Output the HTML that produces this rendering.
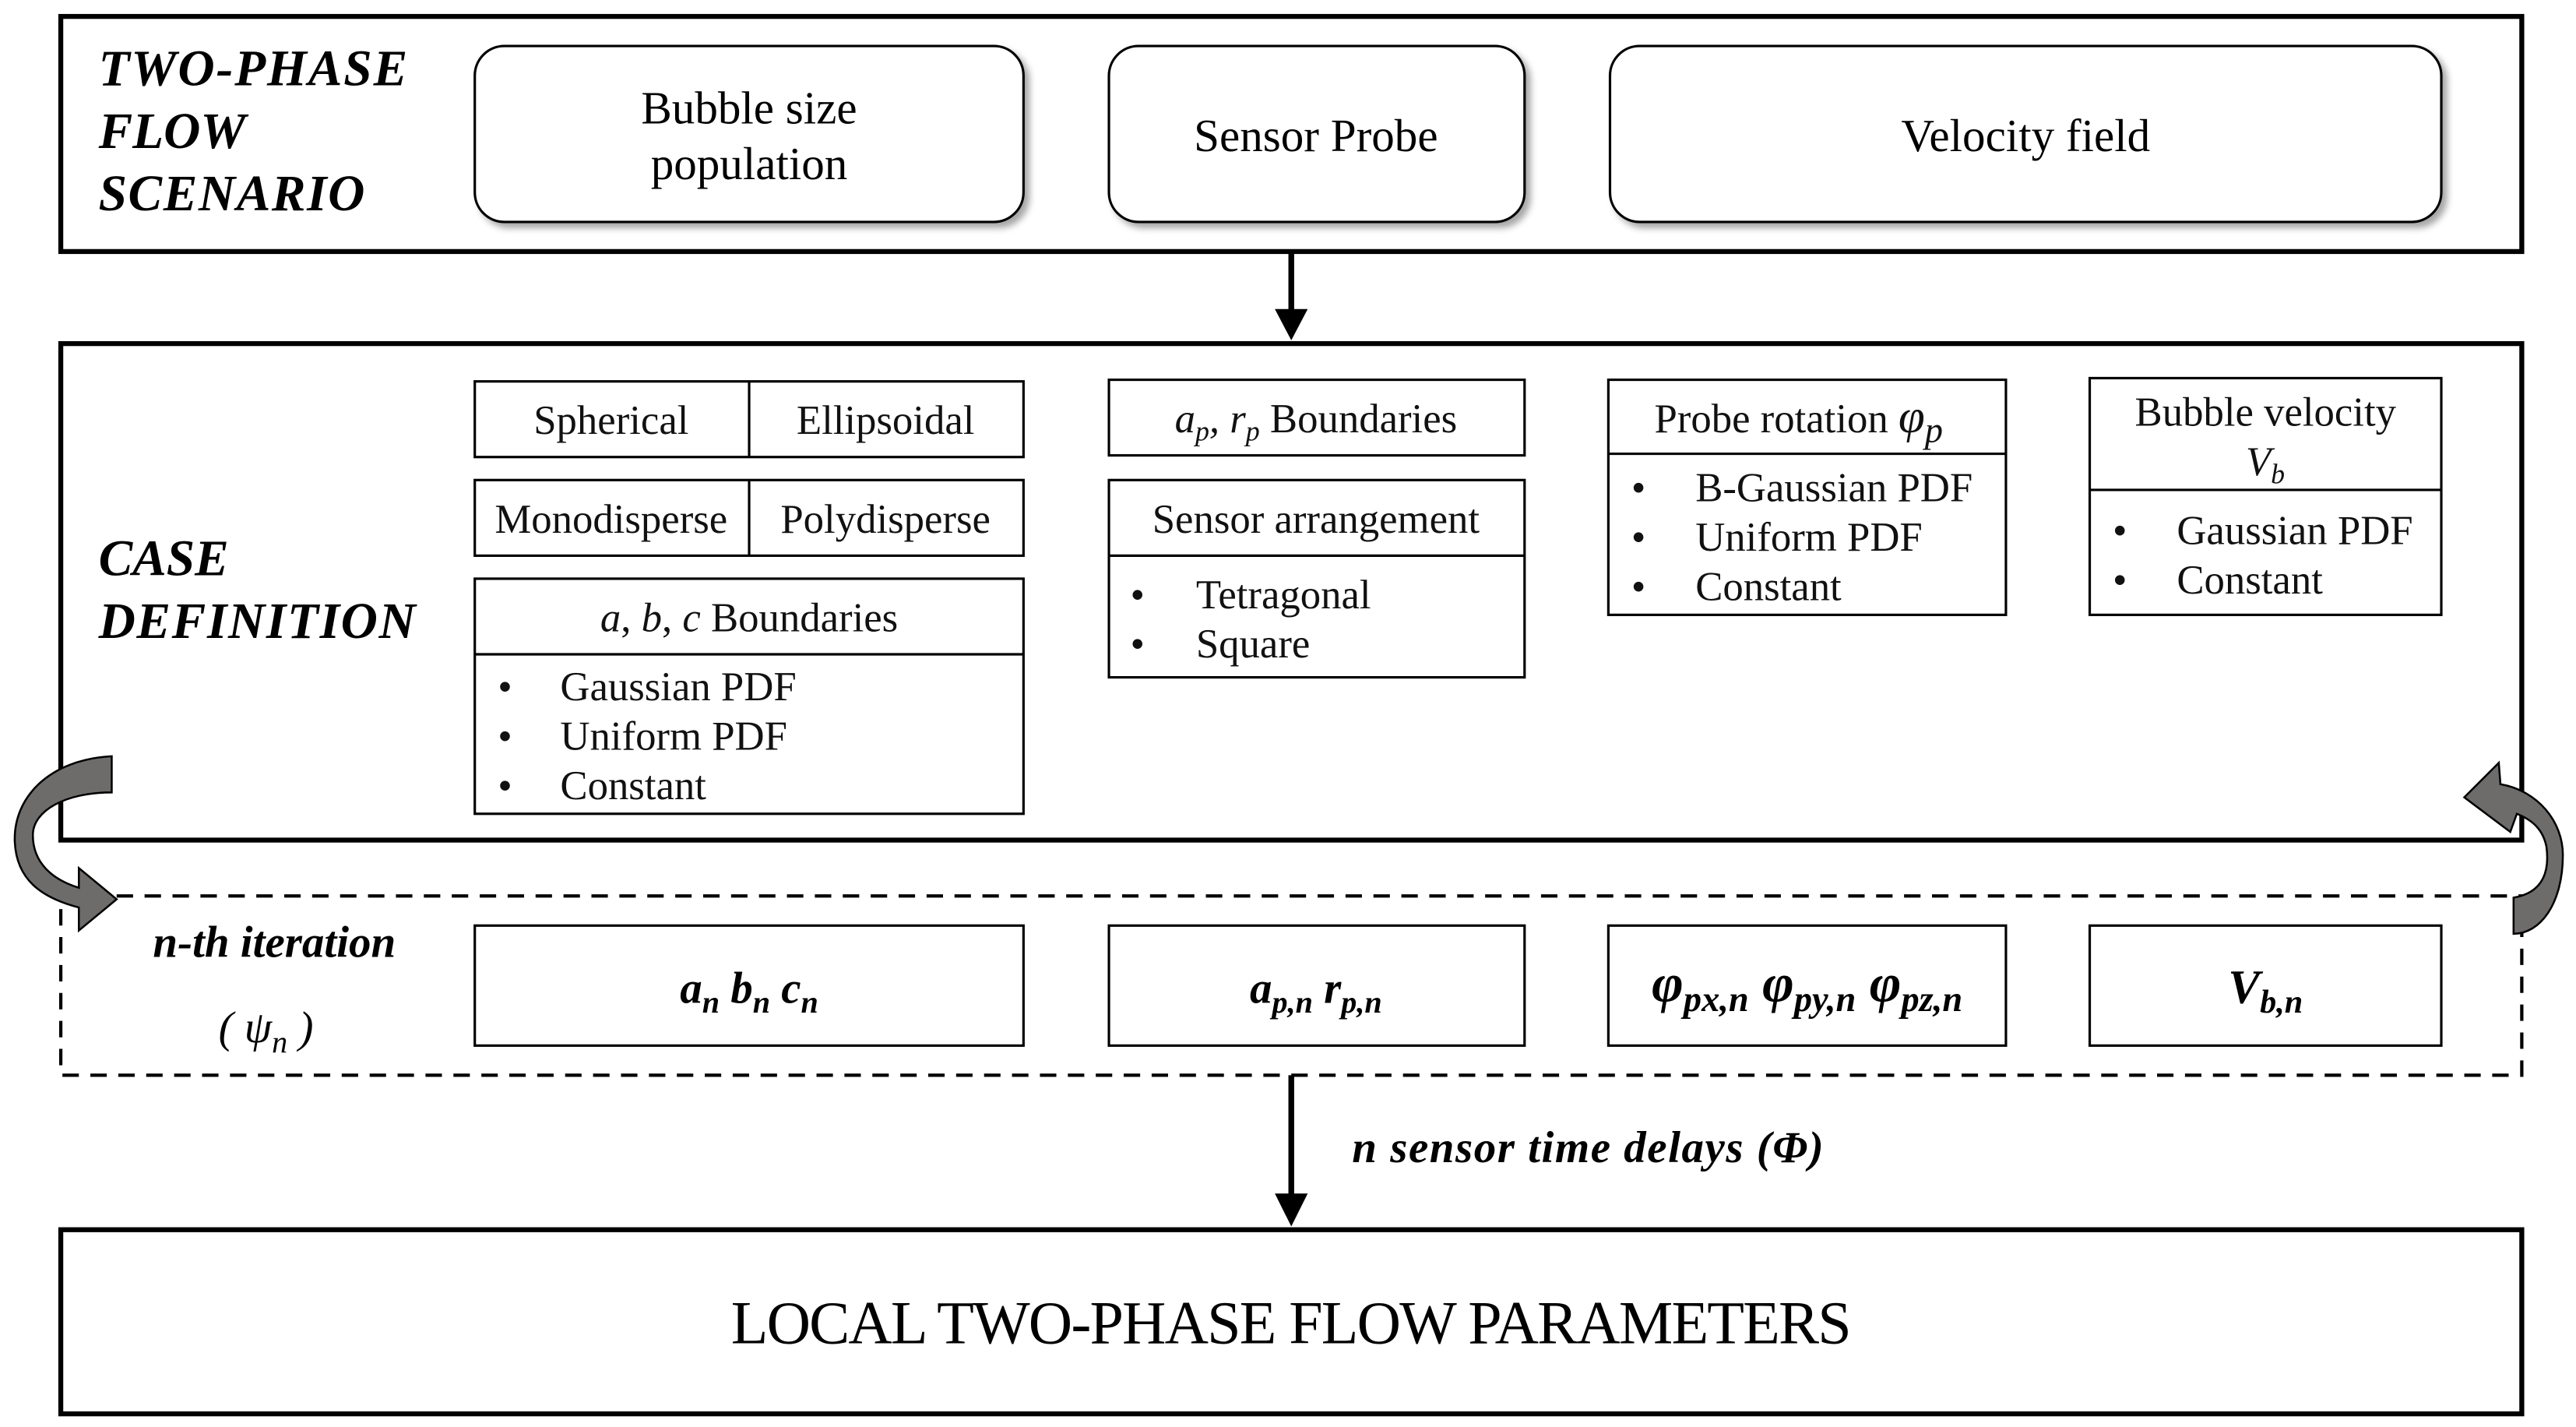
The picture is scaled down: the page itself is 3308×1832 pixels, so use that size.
<!DOCTYPE html>
<html><head><meta charset="utf-8"><style>html,body{margin:0;padding:0;background:#fff}svg{display:block}</style></head>
<body>
<svg width="3308" height="1832" viewBox="0 0 1568 868" preserveAspectRatio="none" xmlns="http://www.w3.org/2000/svg" font-family="'Liberation Serif', serif">
<defs>
<filter id="sh" x="-5%" y="-5%" width="115%" height="125%"><feDropShadow dx="3" dy="3" stdDeviation="2" flood-color="#000" flood-opacity="0.35"/></filter>
</defs>
<rect width="1568" height="868" fill="#fff"/>
<rect x="37" y="10" width="1498" height="143" fill="none" stroke="#000" stroke-width="3"/>
<g font-style="italic" font-weight="bold" font-size="31">
<text x="60" y="52" textLength="188">TWO-PHASE</text><text x="60" y="90">FLOW</text><text x="60" y="128" textLength="162">SCENARIO</text>
<text x="60" y="350">CASE</text><text x="60" y="388" textLength="193">DEFINITION</text>
</g>
<g fill="#fff" stroke="#000" stroke-width="1.5" filter="url(#sh)">
<rect x="289" y="28" width="334" height="107" rx="18"/>
<rect x="675" y="28" width="253" height="107" rx="18"/>
<rect x="980" y="28" width="506" height="107" rx="18"/>
</g>
<g font-size="28" text-anchor="middle">
<text x="456" y="75">Bubble size</text><text x="456" y="109">population</text>
<text x="801" y="92">Sensor Probe</text>
<text x="1233" y="92">Velocity field</text>
</g>
<line x1="786" y1="154" x2="786" y2="192" stroke="#000" stroke-width="3.5"/>
<polygon points="776,188 796,188 786,207" fill="#000"/>
<rect x="37" y="209" width="1498" height="302" fill="none" stroke="#000" stroke-width="3"/>
<g fill="none" stroke="#000" stroke-width="1.5">
<rect x="289" y="232" width="334" height="46"/><line x1="456" y1="232" x2="456" y2="278"/>
<rect x="289" y="292" width="334" height="46"/><line x1="456" y1="292" x2="456" y2="338"/>
<rect x="289" y="352" width="334" height="143"/><line x1="289" y1="398" x2="623" y2="398"/>
<rect x="675" y="231" width="253" height="46"/>
<rect x="675" y="292" width="253" height="120"/><line x1="675" y1="338" x2="928" y2="338"/>
<rect x="979" y="231" width="242" height="143"/><line x1="979" y1="276" x2="1221" y2="276"/>
<rect x="1272" y="230" width="214" height="144"/><line x1="1272" y1="298" x2="1486" y2="298"/>
</g>
<g font-size="25" fill="#111">
<text x="372" y="264" text-anchor="middle">Spherical</text>
<text x="539" y="264" text-anchor="middle">Ellipsoidal</text>
<text x="372" y="324" text-anchor="middle">Monodisperse</text>
<text x="539" y="324" text-anchor="middle">Polydisperse</text>
<text x="456" y="384" text-anchor="middle"><tspan font-style="italic">a</tspan>, <tspan font-style="italic">b</tspan>, <tspan font-style="italic">c</tspan> Boundaries</text>
<text x="303" y="426">•</text><text x="341" y="426">Gaussian PDF</text>
<text x="303" y="456">•</text><text x="341" y="456">Uniform PDF</text>
<text x="303" y="486">•</text><text x="341" y="486">Constant</text>
<text x="801" y="263" text-anchor="middle"><tspan font-style="italic">a<tspan font-size="17" dy="5">p</tspan><tspan dy="-5">, r</tspan><tspan font-size="17" dy="5">p</tspan></tspan><tspan dy="-5"> Boundaries</tspan></text>
<text x="801" y="324" text-anchor="middle">Sensor arrangement</text>
<text x="688" y="370">•</text><text x="728" y="370">Tetragonal</text>
<text x="688" y="400">•</text><text x="728" y="400">Square</text>
<text x="1007" y="263">Probe rotation  <tspan font-style="italic" font-size="29">φ<tspan font-size="22" dy="6">p</tspan></tspan></text>
<text x="993" y="305">•</text><text x="1032" y="305">B-Gaussian PDF</text>
<text x="993" y="335">•</text><text x="1032" y="335">Uniform PDF</text>
<text x="993" y="365">•</text><text x="1032" y="365">Constant</text>
<text x="1379" y="259" text-anchor="middle">Bubble velocity</text>
<text x="1367" y="289" font-style="italic">V<tspan font-size="17" dy="5">b</tspan></text>
<text x="1286" y="331">•</text><text x="1325" y="331">Gaussian PDF</text>
<text x="1286" y="361">•</text><text x="1325" y="361">Constant</text>
</g>
<rect x="37" y="545" width="1498" height="109" fill="none" stroke="#000" stroke-width="2" stroke-dasharray="10,7"/>
<g fill="#fff" stroke="#000" stroke-width="1.5">
<rect x="289" y="563" width="334" height="73"/>
<rect x="675" y="563" width="253" height="73"/>
<rect x="979" y="563" width="242" height="73"/>
<rect x="1272" y="563" width="214" height="73"/>
</g>
<g font-style="italic" font-weight="bold" font-size="27">
<text x="167" y="582" text-anchor="middle" font-size="27">n-th iteration</text>
<text x="133" y="634" font-weight="normal" font-size="27">(  ψ<tspan font-size="19" dy="6">n</tspan><tspan dy="-6">  )</tspan></text>
<text x="456" y="610" text-anchor="middle">a<tspan font-size="19" dy="6">n</tspan><tspan dy="-6"> b</tspan><tspan font-size="19" dy="6">n</tspan><tspan dy="-6"> c</tspan><tspan font-size="19" dy="6">n</tspan></text>
<text x="801" y="610" text-anchor="middle">a<tspan font-size="19" dy="6">p,n</tspan><tspan dy="-6"> r</tspan><tspan font-size="19" dy="6">p,n</tspan></text>
<text x="1100" y="609" text-anchor="middle" font-size="33">φ<tspan font-size="22" dy="6">px,n</tspan><tspan dy="-6"> φ</tspan><tspan font-size="22" dy="6">py,n</tspan><tspan dy="-6"> φ</tspan><tspan font-size="22" dy="6">pz,n</tspan></text>
<text x="1379" y="610" text-anchor="middle" font-size="29">V<tspan font-size="20" dy="6">b,n</tspan></text>
<text x="823" y="707" font-size="27" textLength="287">n sensor time delays (Φ)</text>
</g>
<line x1="786" y1="654" x2="786" y2="730" stroke="#000" stroke-width="3.5"/>
<polygon points="776,726 796,726 786,746" fill="#000"/>
<rect x="37" y="748" width="1498" height="112" fill="none" stroke="#000" stroke-width="3"/>
<text x="786" y="817" text-anchor="middle" font-size="37" textLength="682">LOCAL TWO-PHASE FLOW PARAMETERS</text>
<path d="M68,460 C30,462 8,485 9,512 C10,535 25,546 48,552 L48,566 L71,547 L48,528 L48,540 C32,535 20,525 20,508 C20,493 40,482 68,482 Z" fill="#6e6b6b" stroke="#000" stroke-width="1.2"/>
<path d="M1530,546 C1548,543 1552,530 1550,515 C1548,505 1542,499 1532,495 L1528,506 L1500,485 L1521,464 L1522,477 C1545,481 1560,500 1560,520 C1560,550 1546,568 1530,568 Z" fill="#6e6b6b" stroke="#000" stroke-width="1.2"/>
</svg>
</body></html>
